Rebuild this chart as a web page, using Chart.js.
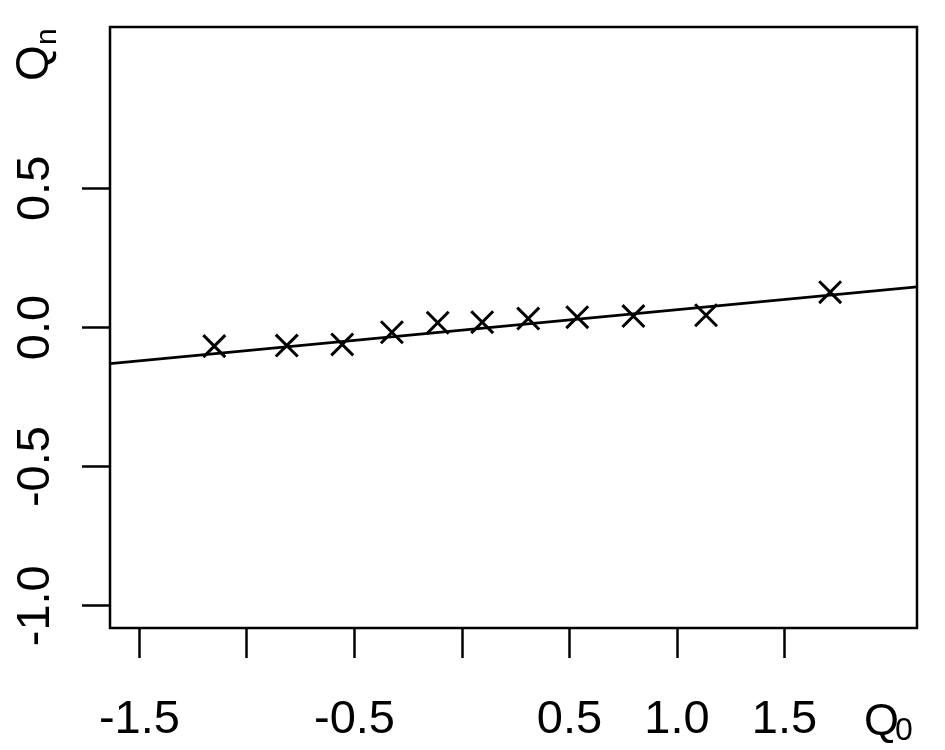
<!DOCTYPE html>
<html>
<head>
    <title>Qn vs Q0</title>
    <script src="https://cdn.jsdelivr.net/npm/chart.js"></script>
    <style>
        body { margin: 0; background: #fff; }
    </style>
</head>
<body>
    <canvas id="qqChart" width="945" height="750"></canvas>
    <script>
        // values
        const q0 = [-1.152, -0.815, -0.557, -0.326, -0.113, 0.094, 0.308, 0.536, 0.797, 1.135, 1.712];
        const qn = [-0.067, -0.065, -0.061, -0.017, 0.017, 0.019, 0.032, 0.037, 0.041, 0.044, 0.127];
        const lineX = [-1.637, 2.116];
        const lineY = [-0.130, 0.146];
        const xTicks = [-1.5, -1.0, -0.5, 0.0, 0.5, 1.0, 1.5];
        const xTickLabels = ['-1.5', '-0.5', '0.5', '1.0', '1.5'];
        const yTicks = [-1.0, -0.5, 0.0, 0.5];
        const yTickLabels = ['-1.0', '-0.5', '0.0', '0.5'];

        const FONT = 'Liberation Sans, Arial, sans-serif';

        const boxAndTitles = {
            id: 'boxAndTitles',
            afterDraw(chart) {
                const c = chart.ctx, a = chart.chartArea;
                c.save();
                c.strokeStyle = '#000';
                c.lineWidth = 2.5;
                c.strokeRect(a.left, a.top, a.right - a.left, a.bottom - a.top);
                c.fillStyle = '#000';
                // x title
                c.textBaseline = 'alphabetic';
                c.textAlign = 'left';
                c.font = '45px ' + FONT;
                c.fillText('Q', 864, 735);
                c.font = '32px ' + FONT;
                c.fillText('0', 895, 740);
                // y title
                c.translate(48, 81);
                c.rotate(-Math.PI / 2);
                c.font = '46px ' + FONT;
                c.fillText('Q', 0, 0);
                c.font = '30px ' + FONT;
                c.fillText('n', 36, 8);
                c.restore();
            }
        };

        const ctx = document.getElementById('qqChart').getContext('2d');
        const chart = new Chart(ctx, {
            type: 'scatter',
            data: {
                datasets: [{
                    data: q0.map((x, i) => ({ x: x, y: qn[i] })),
                    pointStyle: 'crossRot',
                    radius: 15.5,
                    borderColor: '#000',
                    borderWidth: 3
                }, {
                    type: 'line',
                    data: lineX.map((x, i) => ({ x: x, y: lineY[i] })),
                    borderColor: '#000',
                    borderWidth: 2.8,
                    pointRadius: 0,
                    fill: false
                }]
            },
            options: {
                responsive: false,
                animation: false,
                events: [],
                layout: { padding: { top: 27, right: 28, left: 0, bottom: 0 } },
                plugins: { legend: { display: false }, tooltip: { enabled: false } },
                scales: {
                    x: {
                        type: 'linear',
                        min: lineX[0],
                        max: lineX[1],
                        afterBuildTicks: s => { s.ticks = xTicks.map(v => ({ value: v })); },
                        afterFit: s => { s.height = 122; s.paddingLeft = 0; s.paddingRight = 0; },
                        border: { display: false },
                        grid: { drawOnChartArea: false, tickLength: 30, tickColor: '#000', tickWidth: 2.5 },
                        ticks: {
                            color: '#000',
                            font: { family: FONT, size: 47 },
                            padding: 34,
                            maxRotation: 0,
                            autoSkip: false,
                            callback: v => {
                                const t = v.toFixed(1);
                                return xTickLabels.includes(t) ? t : '';
                            }
                        }
                    },
                    y: {
                        min: -1.08,
                        max: 1.08,
                        afterBuildTicks: s => { s.ticks = yTicks.map(v => ({ value: v })); },
                        afterFit: s => { s.width = 110; s.paddingTop = 0; s.paddingBottom = 0; },
                        border: { display: false },
                        grid: { drawOnChartArea: false, tickLength: 28, tickColor: '#000', tickWidth: 2.5 },
                        ticks: {
                            color: '#000',
                            font: { family: FONT, size: 47 },
                            padding: 5,
                            minRotation: 90,
                            maxRotation: 90,
                            crossAlign: 'center',
                            autoSkip: false,
                            callback: v => {
                                const t = v.toFixed(1);
                                return yTickLabels.includes(t) ? t : '';
                            }
                        }
                    }
                }
            },
            plugins: [boxAndTitles]
        });
    </script>
</body>
</html>
